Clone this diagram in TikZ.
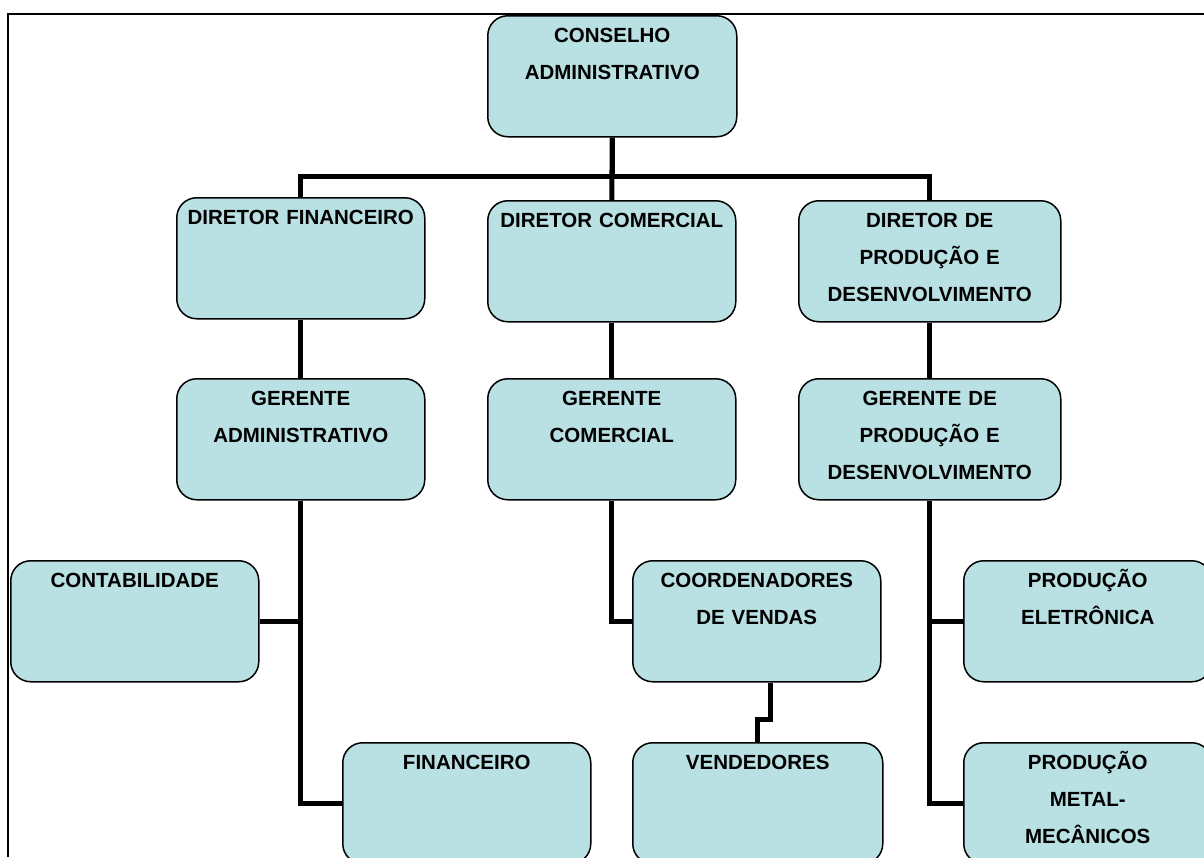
\documentclass[tikz,border=0pt]{standalone}
\usepackage{fontspec}
\setmainfont{Liberation Sans}
\usepackage{xcolor}
\usepackage{tikz}
\usetikzlibrary{positioning}
\definecolor{boxfill}{RGB}{185,224,227}
\tikzset{
    orgbox/.style={rectangle, rounded corners=20pt, draw, line width=1.5pt, fill=boxfill, text width=240pt, inner xsep=4pt, inner ysep=0pt, text height=27pt, text depth=94pt, align=center, anchor=north west, font=\fontsize{20.5}{37}\selectfont\bfseries},
    widebox/.style={orgbox, text width=254pt},
    link/.style={line width=5pt},
    frame/.style={line width=2pt}
}

\begin{document}
\begin{tikzpicture}[x=1pt, y=-1pt]
    \clip (0,0) rectangle (1204,857);
    \useasboundingbox (0,0) rectangle (1204,857);
    % Page frame
    \draw[frame] (1204,14) -- (8,14) -- (8,857);

    % Board
    \node[orgbox, text width=241pt] (cons) at (487,15) {CONSELHO\\ADMINISTRATIVO};
    % Directors
    \node[orgbox] (dfin) at (176,197) {DIRETOR FINANCEIRO};
    \node[orgbox] (dcom) at (487,200) {DIRETOR COMERCIAL};
    \node[widebox] (dprod) at (798,200) {DIRETOR DE\\PRODUÇÃO E\\DESENVOLVIMENTO};
    % Managers
    \node[orgbox] (gadm) at (176,378) {GERENTE\\ADMINISTRATIVO};
    \node[orgbox] (gcom) at (487,378) {GERENTE\\COMERCIAL};
    \node[widebox] (gprod) at (798,378) {GERENTE DE\\PRODUÇÃO E\\DESENVOLVIMENTO};
    % Departments
    \node[orgbox] (cont) at (10,560) {CONTABILIDADE};
    \node[orgbox] (fin) at (342,742) {FINANCEIRO};
    \node[orgbox] (coord) at (632,560) {COORDENADORES\\DE VENDAS};
    \node[orgbox, text width=242pt] (vend) at (632,742) {VENDEDORES};
    \node[orgbox] (pelet) at (963,560) {PRODUÇÃO\\ELETRÔNICA};
    \node[orgbox] (pmet) at (963,742) {PRODUÇÃO\\METAL-\\MECÂNICOS};

    % Connections
    \draw[link] (cons.south) -- ++(0,39) -| (dfin.north);
    \draw[link] (cons.south) -- ++(0,39) -| (dprod.north);
    \draw[link] (cons.south) -- (dcom.north);
    \draw[link] (dfin) -- (gadm);
    \draw[link] (dcom) -- (gcom);
    \draw[link] (dprod) -- (gprod);
    \draw[link] (gadm.south) |- (cont.east);
    \draw[link] (gadm.south) |- (fin.west);
    \draw[link] (gcom.south) |- (coord.west);
    \draw[link] ([xshift=14pt]coord.south) -- ++(0,37) -| (vend.north);
    \draw[link] (gprod.south) |- (pelet.west);
    \draw[link] (gprod.south) |- (pmet.west);
\end{tikzpicture}
\end{document}
